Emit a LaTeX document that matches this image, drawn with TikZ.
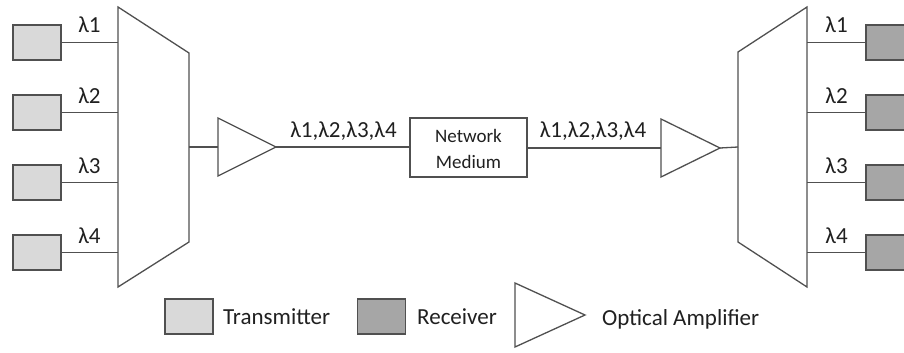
\documentclass[tikz,border=0pt]{standalone}
\usepackage{fontspec}
\setmainfont{Carlito}
\definecolor{linec}{HTML}{505050}
\definecolor{txtc}{HTML}{202020}
\definecolor{txfill}{HTML}{D9D9D9}
\definecolor{rxfill}{HTML}{A6A6A6}
\tikzset{
  ln/.style={draw=linec, line width=1.3pt},
  txbox/.style={ln, fill=txfill, minimum width=48pt, minimum height=35pt, inner sep=0pt},
  rxbox/.style={ln, fill=rxfill, minimum width=48pt, minimum height=35pt, inner sep=0pt},
  lab/.style={text=txtc, font=\fontsize{23}{27}\selectfont, inner sep=0pt, anchor=base},
  small/.style={text=txtc, font=\fontsize{19}{26}\selectfont, inner sep=0pt, anchor=base},
}
\begin{document}
\begin{tikzpicture}[x=1pt,y=-1pt]
\clip (0,0) rectangle (904,353);
\fill[white] (0,0) rectangle (904,353);
% left multiplexer
\draw[ln] (118,7) coordinate (muxtop) -- (189,53) -- (189,242) -- (118,287) -- cycle;
\coordinate (muxout) at (189,147);
% right demultiplexer
\draw[ln] (807,7) -- (738,52) -- (738,242) -- (807,287) -- cycle;
\coordinate (demuxin) at (738,147);
% transmitters and receivers
\foreach \i/\y in {1/42.5,2/112.5,3/182.5,4/252.5}{
  \node[txbox] (tx\i) at (37,\y) {};
  \coordinate (ml\i) at (118,\y);
  \draw[ln] (tx\i.east) -- (ml\i);
  \node[lab] (ltx\i) at (89.5,\y-9.5) {λ\i};
  \node[rxbox] (rx\i) at (890,\y) {};
  \coordinate (dr\i) at (807,\y);
  \draw[ln] (dr\i) -- (rx\i.west);
  \node[lab] (lrx\i) at (836.5,\y-9.5) {λ\i};
}
% amplifiers
\draw[ln] (218,118) -- (276,147) coordinate (a1out) -- (218,176) -- cycle;
\coordinate (a1in) at (218,147);
\draw[ln] (661,119) -- (720,148) coordinate (a2out) -- (661,177) -- cycle;
\coordinate (a2in) at (661,148);
% network medium
\node[ln, minimum width=117pt, minimum height=59pt, inner sep=0pt] (net) at (468.5,147.5) {};
\node[small] (net1) at (468.5,142) {Network};
\node[small] (net2) at (468.5,168) {Medium};
% connectors
\draw[ln] (muxout) -- (a1in);
\draw[ln] (a1out) -- (net.west |- a1out);
\draw[ln] (net.east |- a2in) -- (a2in);
\draw[ln] (a2out) -- (demuxin);
\node[lab] (all1) at (343.5,137) {λ1,λ2,λ3,λ4};
\node[lab] (all2) at (593,137) {λ1,λ2,λ3,λ4};
% legend
\node[txbox] (legtx) at (189,316.5) {};
\node[lab, anchor=base west] (legtxt) at (223,324) {Transmitter};
\node[rxbox] (legrx) at (381.5,316.5) {};
\node[lab, anchor=base west] (legrxt) at (417,324) {Receiver};
\draw[ln] (515,283) -- (585,315) -- (515,347) -- cycle;
\node[lab, anchor=base west] (legamp) at (602,325) {Optical Amplifier};
\end{tikzpicture}
\end{document}
